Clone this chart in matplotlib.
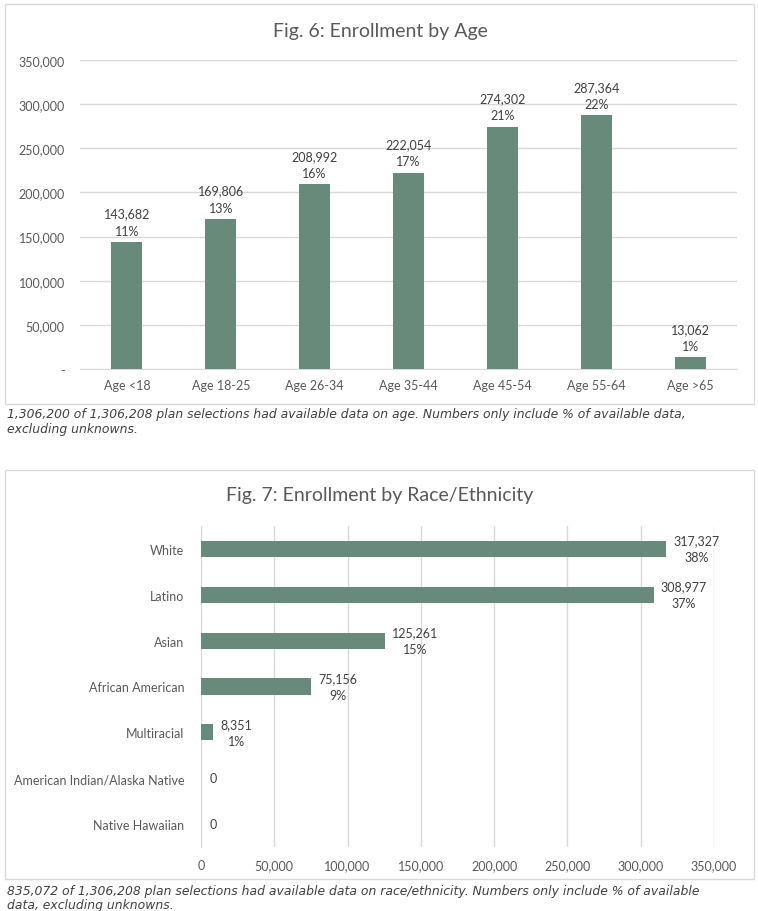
import matplotlib.pyplot as plt
from matplotlib.patches import Rectangle
from matplotlib.ticker import FuncFormatter

plt.rcParams['font.family'] = ['Lato', 'DejaVu Sans']

age_groups = ["Age <18", "Age 18-25", "Age 26-34", "Age 35-44", "Age 45-54", "Age 55-64", "Age >65"]
age_counts = [143682, 169806, 208992, 222054, 274302, 287364, 13062]
age_pct = [11, 13, 16, 17, 21, 22, 1]

races = ["White", "Latino", "Asian", "African American", "Multiracial",
         "American Indian/Alaska Native", "Native Hawaiian"]
race_counts = [317327, 308977, 125261, 75156, 8351, 0, 0]
race_pct = [38, 37, 15, 9, 1, None, None]

bar_col = "#678a7b"
grid_col = "#d9d9d9"
tick_col = "#595959"
lab_col = "#404040"
fs = 9

W, H = 758, 912
fig = plt.figure(figsize=(W / 100, H / 100), dpi=100)

def px(x0, y0, x1, y1):
    # pixel box (top-left origin) -> figure fraction
    return [x0 / W, 1 - y1 / H, (x1 - x0) / W, (y1 - y0) / H]

def comma(v, pos=None):
    return f"{int(v):,}"

# chart borders
for (x0, y0, x1, y1) in [(5, 5, 754, 405), (5, 471, 754, 880)]:
    fig.patches.append(Rectangle((x0 / W, 1 - y1 / H), (x1 - x0) / W, (y1 - y0) / H,
                                 transform=fig.transFigure, fill=False,
                                 edgecolor=grid_col, linewidth=1))

########## Fig 6
ax1 = fig.add_axes(px(80, 61, 737, 370))
xs = range(len(age_groups))
bars = ax1.bar(xs, age_counts, width=0.33, color=bar_col, zorder=3)
ax1.set_ylim(0, 350000)
ax1.set_xlim(-0.5, len(age_groups) - 0.5)
ax1.set_yticks(range(0, 350001, 50000))
ax1.yaxis.set_major_formatter(FuncFormatter(lambda v, p: "-" if v == 0 else comma(v)))
ax1.set_xticks(list(xs))
ax1.set_xticklabels(age_groups)
ax1.grid(axis='y', color=grid_col, linewidth=1, zorder=0)
for s in ["top", "right", "left"]:
    ax1.spines[s].set_visible(False)
ax1.spines["bottom"].set_color(grid_col)
ax1.tick_params(length=0, colors=tick_col, labelsize=fs)
ax1.tick_params(axis='y', pad=11)
ax1.tick_params(axis='x', pad=7)
for b, c, p in zip(bars, age_counts, age_pct):
    ax1.annotate(f"{c:,}\n{p}%", (b.get_x() + b.get_width() / 2, c),
                 xytext=(0, 4), textcoords="offset points", ha="center", va="bottom",
                 fontsize=fs, color=lab_col, linespacing=1.5)
fig.text(380 / W, 1 - 31 / H, "Fig. 6: Enrollment by Age", ha="center", va="center",
         fontsize=14, color=tick_col)
fig.text(7 / W, 1 - 408 / H,
         "1,306,200 of 1,306,208 plan selections had available data on age. Numbers only include % of available data,\nexcluding unknowns.",
         ha="left", va="top", fontsize=8.9, style="italic", color=lab_col,
         linespacing=1.15, family="DejaVu Sans")

########## Fig 7
ax2 = fig.add_axes(px(201, 527, 714, 848))
ys = range(len(races))
bars2 = ax2.barh(ys, race_counts, height=0.35, color=bar_col, zorder=3)
ax2.set_xlim(0, 350000)
ax2.set_ylim(len(races) - 0.5, -0.5)
ax2.set_xticks(range(0, 350001, 50000))
ax2.xaxis.set_major_formatter(FuncFormatter(comma))
ax2.set_yticks(list(ys))
ax2.set_yticklabels(races)
ax2.grid(axis='x', color=grid_col, linewidth=1, zorder=0)
for s in ["top", "right", "bottom"]:
    ax2.spines[s].set_visible(False)
ax2.spines["left"].set_color(grid_col)
ax2.tick_params(length=0, colors=tick_col, labelsize=fs)
ax2.tick_params(axis='x', pad=9)
ax2.tick_params(axis='y', pad=12)
for b, c, p in zip(bars2, race_counts, race_pct):
    txt = f"{c:,}" if p is None else f"{c:,}\n{p}%"
    ax2.annotate(txt, (c, b.get_y() + b.get_height() / 2),
                 xytext=(6 if p is None else 5, 0), textcoords="offset points",
                 ha="left", va="center", multialignment="center",
                 fontsize=fs, color=lab_col, linespacing=1.5)
fig.text(380 / W, 1 - 496 / H, "Fig. 7: Enrollment by Race/Ethnicity", ha="center", va="center",
         fontsize=14, color=tick_col)
fig.text(7 / W, 1 - 885 / H,
         "835,072 of 1,306,208 plan selections had available data on race/ethnicity. Numbers only include % of available\ndata, excluding unknowns.",
         ha="left", va="top", fontsize=8.9, style="italic", color=lab_col,
         linespacing=1.15, family="DejaVu Sans")

fig.savefig("out.png", dpi=100)
